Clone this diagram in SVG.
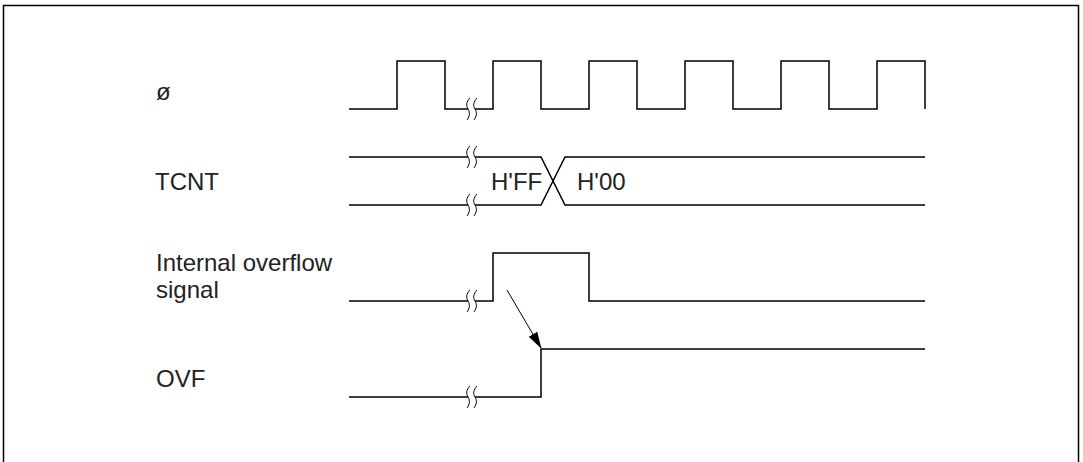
<svg xmlns="http://www.w3.org/2000/svg" width="1083" height="462" viewBox="0 0 1083 462">
<style>
.w{fill:none;stroke:#000;stroke-width:1.5}
.b{fill:none;stroke:#000;stroke-width:1}
.t{font-family:"Liberation Sans",Arial,sans-serif;font-size:24px;fill:#222}
</style>
<defs>
<marker id="ah" markerWidth="17" markerHeight="10" refX="16" refY="5" orient="auto" markerUnits="userSpaceOnUse">
<path d="M0,0 L17,5 L0,10 Z" fill="#000"/>
</marker>
<path id="sq" d="M2,-11 C-2,-7 -2,-3 0,0 C2,3 2,7 -1,11" class="b"/>
</defs>
<rect x="0" y="0" width="1083" height="462" fill="#fff"/>
<path d="M3.5,470 V5.5 H1078.5 V470" fill="none" stroke="#000" stroke-width="1.5"/>
<g id="labels">
<text class="t" x="156" y="100">ø</text>
<text class="t" x="155" y="190">TCNT</text>
<text class="t" x="156" y="271">Internal overflow</text>
<text class="t" x="156" y="298">signal</text>
<text class="t" x="156" y="387">OVF</text>
<text class="t" x="491" y="190">H'FF</text>
<text class="t" x="577" y="190">H'00</text>
</g>
<g id="clock">
<path class="w" d="M349,109 H397 V61 H445 V109 H468"/>
<path class="w" d="M475,109 H493 V61 H541 V109 H589 V61 H637 V109 H685 V61 H733 V109 H781 V61 H829 V109 H877 V61 H925 V109"/>
<use href="#sq" x="468" y="109"/><use href="#sq" x="475" y="109"/>
</g>
<g id="tcnt">
<path class="w" d="M349,157 H468 M475,157 H541 L565,205 H925"/>
<path class="w" d="M349,205 H468 M475,205 H541 L565,157 H925"/>
<use href="#sq" x="468" y="157"/><use href="#sq" x="475" y="157"/>
<use href="#sq" x="468" y="205"/><use href="#sq" x="475" y="205"/>
</g>
<g id="overflow">
<path class="w" d="M349,301 H468 M475,301 H493 V253 H589 V301 H925"/>
<use href="#sq" x="468" y="301"/><use href="#sq" x="475" y="301"/>
</g>
<g id="ovf">
<path class="w" d="M349,397 H468 M475,397 H541 V349 H925"/>
<use href="#sq" x="468" y="397"/><use href="#sq" x="475" y="397"/>
</g>
<g id="connectors">
<line x1="507" y1="290" x2="541" y2="348" stroke="#000" stroke-width="1" marker-end="url(#ah)"/>
</g>
</svg>
